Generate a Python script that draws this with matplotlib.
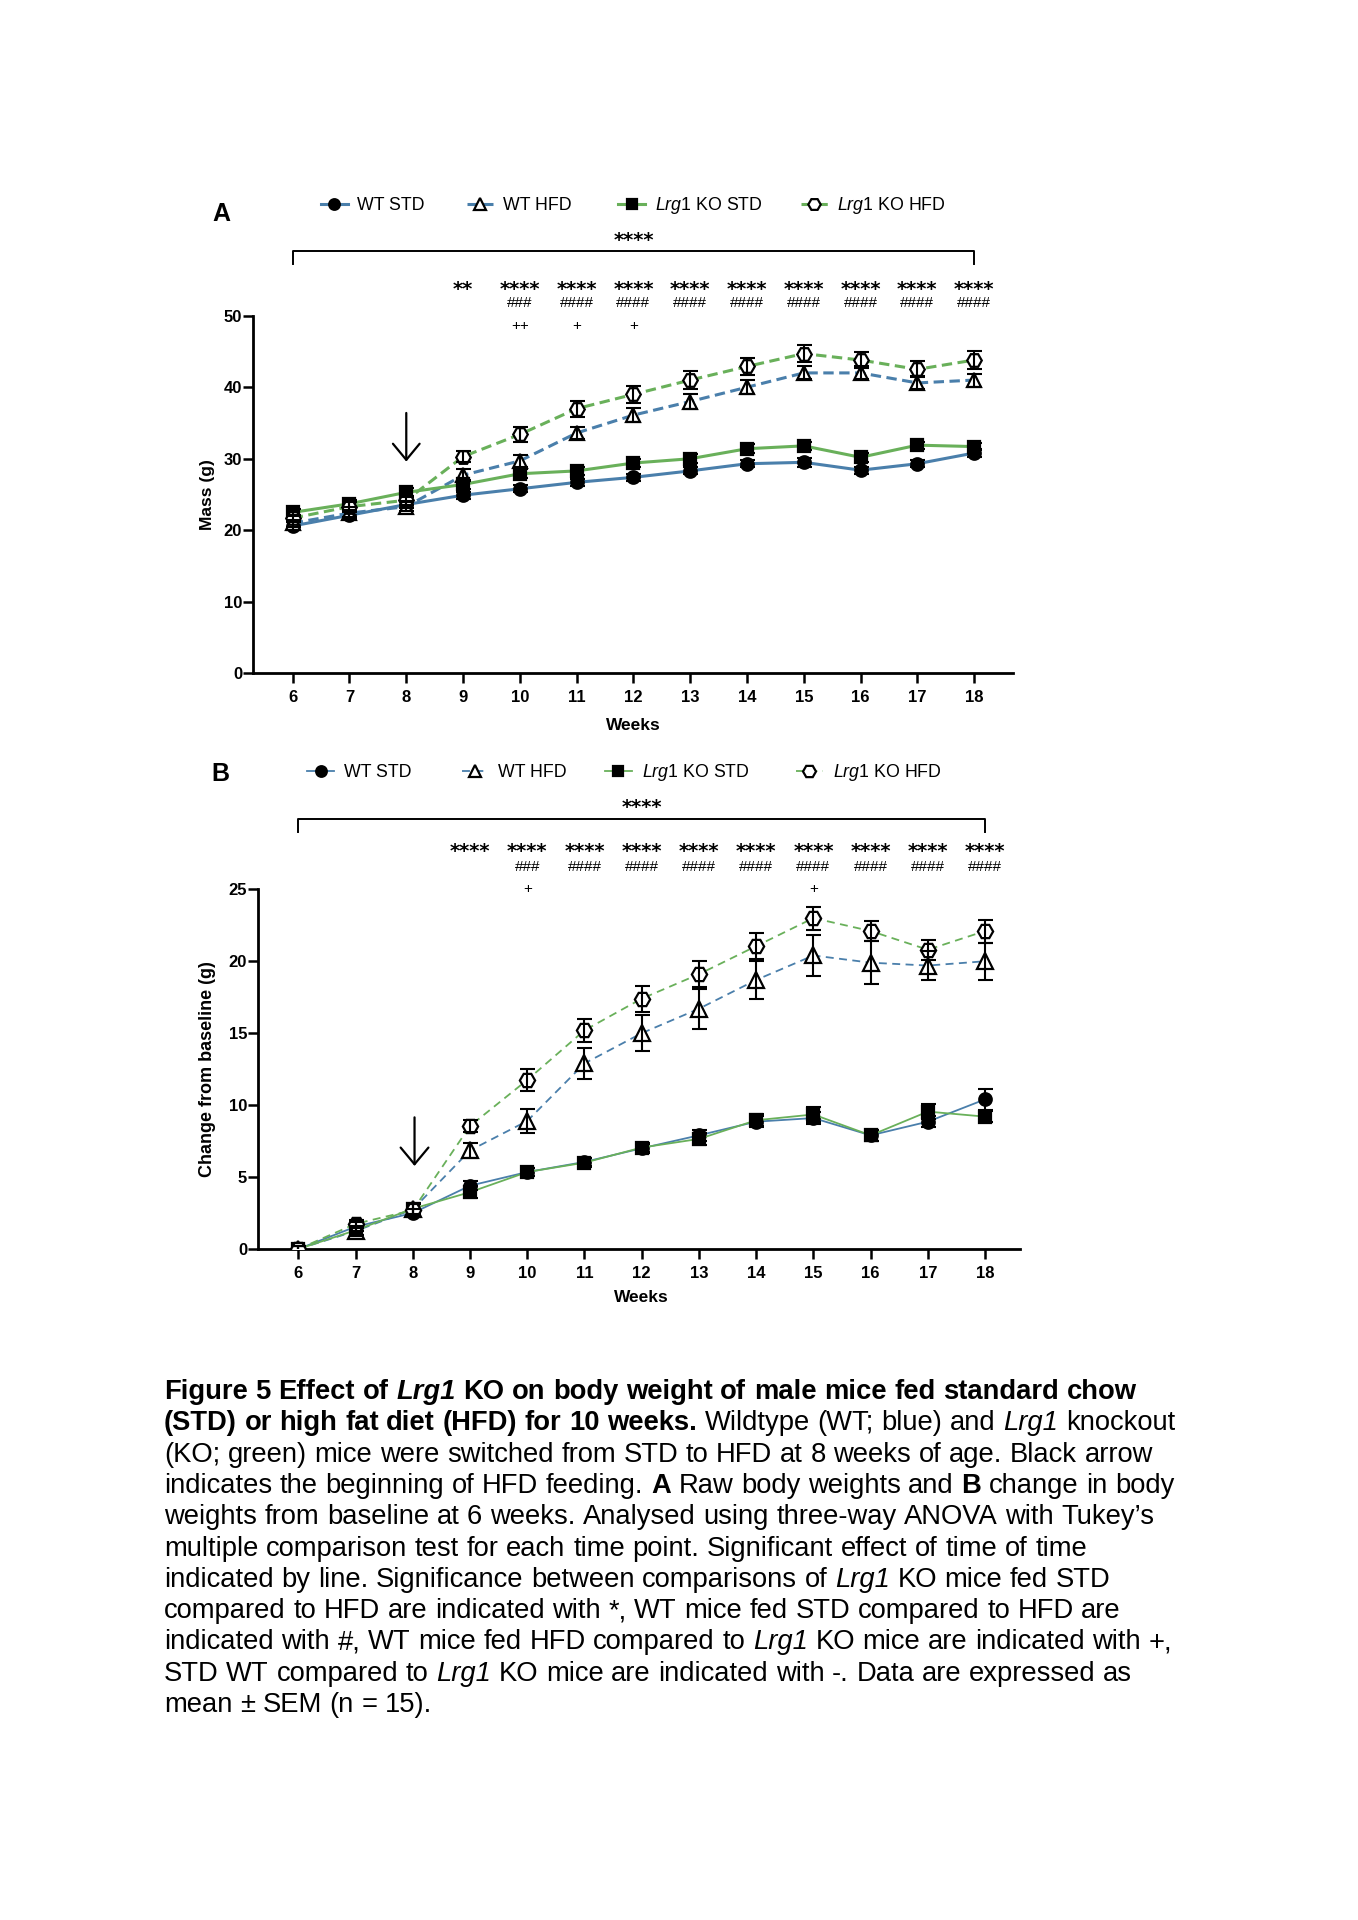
import re
import matplotlib
matplotlib.use("Agg")
import matplotlib.pyplot as plt
from matplotlib import transforms

plt.rcParams['font.family'] = ['Liberation Sans', 'DejaVu Sans']
plt.rcParams['mathtext.fontset'] = 'custom'
plt.rcParams['mathtext.rm'] = 'Liberation Sans'
plt.rcParams['mathtext.it'] = 'Liberation Sans:italic'
plt.rcParams['mathtext.bf'] = 'Liberation Sans:bold'

W, H = 1358, 1920
BLUE = "#4a7fab"
GREEN = "#69b05a"

weeks = [6, 7, 8, 9, 10, 11, 12, 13, 14, 15, 16, 17, 18]

# A: raw body weight (g), mean and SEM
wt_std_a = [20.6, 22.1, 23.6, 24.9, 25.8, 26.7, 27.4, 28.3, 29.3, 29.5, 28.4, 29.3, 30.8]
wt_std_a_sem = [0.5, 0.5, 0.5, 0.5, 0.5, 0.5, 0.5, 0.5, 0.5, 0.6, 0.5, 0.5, 0.6]
wt_hfd_a = [21.0, 22.4, 23.3, 27.7, 29.7, 33.6, 36.1, 38.0, 40.0, 42.0, 42.0, 40.6, 41.0]
wt_hfd_a_sem = [0.5, 0.5, 0.6, 0.8, 0.8, 0.9, 1.0, 1.0, 1.0, 0.9, 0.9, 0.9, 0.9]
ko_std_a = [22.5, 23.7, 25.3, 26.4, 27.9, 28.3, 29.4, 30.0, 31.4, 31.8, 30.2, 31.9, 31.7]
ko_std_a_sem = [0.5, 0.5, 0.6, 0.6, 0.6, 0.6, 0.6, 0.6, 0.6, 0.6, 0.6, 0.5, 0.5]
ko_hfd_a = [21.7, 23.3, 24.2, 30.3, 33.4, 37.0, 39.0, 41.0, 42.9, 44.7, 43.8, 42.5, 43.8]
ko_hfd_a_sem = [0.5, 0.6, 0.6, 0.8, 1.0, 1.1, 1.2, 1.2, 1.2, 1.2, 1.1, 1.1, 1.2]

# B: change from baseline at 6 weeks (g)
wt_std_b = [0.0, 1.55, 2.5, 4.4, 5.35, 6.05, 7.0, 7.9, 8.85, 9.1, 7.9, 8.85, 10.4]
wt_std_b_sem = [0.2, 0.3, 0.3, 0.3, 0.3, 0.3, 0.3, 0.4, 0.4, 0.4, 0.4, 0.4, 0.75]
wt_hfd_b = [0.0, 1.25, 2.75, 6.85, 8.9, 12.9, 15.0, 16.7, 18.7, 20.4, 19.9, 19.7, 20.0]
wt_hfd_b_sem = [0.2, 0.3, 0.4, 0.5, 0.85, 1.05, 1.25, 1.4, 1.35, 1.45, 1.5, 1.0, 1.3]
ko_std_b = [0.0, 1.3, 2.8, 3.95, 5.35, 6.0, 7.05, 7.65, 8.95, 9.35, 7.9, 9.55, 9.2]
ko_std_b_sem = [0.2, 0.3, 0.4, 0.4, 0.3, 0.3, 0.3, 0.4, 0.4, 0.5, 0.4, 0.5, 0.4]
ko_hfd_b = [0.0, 1.75, 2.7, 8.55, 11.75, 15.2, 17.4, 19.1, 21.05, 23.0, 22.1, 20.8, 22.1]
ko_hfd_b_sem = [0.2, 0.3, 0.4, 0.45, 0.75, 0.8, 0.9, 0.9, 0.9, 0.8, 0.7, 0.7, 0.8]

# significance marks per week
stars_a = ["", "", "", "**", "****", "****", "****", "****", "****", "****", "****", "****", "****"]
hash_a = ["", "", "", "", "###", "####", "####", "####", "####", "####", "####", "####", "####"]
plus_a = ["", "", "", "", "++", "+", "+", "", "", "", "", "", ""]
stars_b = ["", "", "", "****", "****", "****", "****", "****", "****", "****", "****", "****", "****"]
hash_b = ["", "", "", "", "###", "####", "####", "####", "####", "####", "####", "####", "####"]
plus_b = ["", "", "", "", "+", "", "", "", "", "+", "", "", ""]

labels = ["WT STD", "WT HFD", r"$\it{Lrg1}$ KO STD", r"$\it{Lrg1}$ KO HFD"]

STAR_FONT = dict(fontsize=14, fontweight="bold", family=["DejaVu Sans"])


def fy(py):
    return 1 - py / H


fig = plt.figure(figsize=(W / 100, H / 100), dpi=100)


def panel(rect, xlim, ylim, yticks, series, lw, dash, top):
    ax = fig.add_axes(rect)
    handles = []
    for (vals, sem, color, ls, marker, filled, size) in series:
        line, = ax.plot(weeks, vals, color=color, lw=lw,
                        ls=(0, dash) if ls == "--" else "-",
                        marker=marker, ms=size, mec="k", mew=1.6,
                        mfc="k" if filled else "white", zorder=3)
        ax.errorbar(weeks, vals, yerr=sem, fmt="none", ecolor="k",
                    elinewidth=1.5, capsize=5.4, capthick=1.5, zorder=4)
        handles.append(line)
    ax.set_xlim(*xlim)
    ax.set_ylim(*ylim)
    ax.set_xticks(weeks)
    ax.set_yticks(yticks)
    for s in ["top", "right"]:
        ax.spines[s].set_visible(False)
    for s in ["left", "bottom"]:
        ax.spines[s].set_linewidth(2.0)
    ax.tick_params(width=1.8, length=7, labelsize=12)
    ax.tick_params(axis="x", pad=5)
    ax.tick_params(axis="y", pad=1)
    for lab in ax.get_xticklabels() + ax.get_yticklabels():
        lab.set_fontweight("bold")

    # significance rows above the plot
    trans = transforms.blended_transform_factory(ax.transData, fig.transFigure)
    stars, hashes, pluses = top["marks"]
    for wk, s, h, p in zip(weeks, stars, hashes, pluses):
        if s:
            ax.text(wk, fy(top["stars_y"] + 10), s, transform=trans, ha="center",
                    va="baseline", clip_on=False, **STAR_FONT)
        if h:
            ax.text(wk, fy(top["hash_y"] + 5.3), h, transform=trans, ha="center",
                    va="baseline", fontsize=11, clip_on=False,
                    family=["Liberation Sans Narrow", "Liberation Sans"])
        if p:
            ax.text(wk, fy(top["plus_y"] + 5.3), p, transform=trans, ha="center",
                    va="baseline", fontsize=11, clip_on=False)
    # time effect bracket
    by, bt = top["bracket"]
    ax.plot([weeks[0], weeks[0], weeks[-1], weeks[-1]], [fy(bt), fy(by), fy(by), fy(bt)],
            transform=trans, color="k", lw=1.4, clip_on=False)
    ax.text((weeks[0] + weeks[-1]) / 2, fy(top["time_y"] + 10), "****", transform=trans,
            ha="center", va="baseline", clip_on=False, **STAR_FONT)
    return ax, handles


# ---- panel A ----
ax_a, h_a = panel(
    [253.3 / W, fy(673.3), 760 / W, 357.6 / H], (5.306, 18.69), (0, 50),
    [0, 10, 20, 30, 40, 50],
    [(wt_std_a, wt_std_a_sem, BLUE, "-", "o", True, 9),
     (wt_hfd_a, wt_hfd_a_sem, BLUE, "--", "^", False, 10),
     (ko_std_a, ko_std_a_sem, GREEN, "-", "s", True, 8.5),
     (ko_hfd_a, ko_hfd_a_sem, GREEN, "--", "H", False, 10.5)],
    2.2, (3.4, 1.8),
    {"marks": (stars_a, hash_a, plus_a), "stars_y": 284.5, "hash_y": 302,
     "plus_y": 325, "bracket": (251, 264), "time_y": 236})
ax_a.set_ylabel("Mass (g)", fontsize=12.5, fontweight="bold", va="center")
ax_a.yaxis.set_label_coords(-0.0605, 0.5)
ax_a.set_xlabel("Weeks", fontsize=12.5, fontweight="bold", va="center")
ax_a.xaxis.set_label_coords(0.4996, -0.147)
ax_a.annotate("", xy=(8, 29.6), xytext=(8, 36.4),
              arrowprops=dict(arrowstyle="->,head_length=0.58,head_width=0.48",
                              lw=1.6, color="k", mutation_scale=20,
                              shrinkA=0, shrinkB=0))

# ---- panel B ----
ax_b, h_b = panel(
    [258.3 / W, fy(1249), 761.7 / W, 359.7 / H], (5.30, 18.61), (0, 25),
    [0, 5, 10, 15, 20, 25],
    [(wt_std_b, wt_std_b_sem, BLUE, "-", "o", True, 9),
     (wt_hfd_b, wt_hfd_b_sem, BLUE, "--", "^", False, 11),
     (ko_std_b, ko_std_b_sem, GREEN, "-", "s", True, 9),
     (ko_hfd_b, ko_hfd_b_sem, GREEN, "--", "H", False, 11)],
    1.3, (4.4, 3.0),
    {"marks": (stars_b, hash_b, plus_b), "stars_y": 847.4, "hash_y": 866,
     "plus_y": 888, "bracket": (818.5, 831.5), "time_y": 803.5})
ax_b.set_ylabel("Change from baseline (g)", fontsize=13, fontweight="bold", va="center")
ax_b.yaxis.set_label_coords((208 - 258.3) / 761.7, 0.5)
ax_b.set_xlabel("Weeks", fontsize=12.5, fontweight="bold", va="center")
ax_b.xaxis.set_label_coords(0.503, -0.136)
ax_b.annotate("", xy=(8.03, 5.77), xytext=(8.03, 9.15),
              arrowprops=dict(arrowstyle="->,head_length=0.6,head_width=0.5",
                              lw=1.6, color="k", mutation_scale=20,
                              shrinkA=0, shrinkB=0))

# panel letters
fig.text(221.6 / W, fy(214.3), "A", fontsize=18, fontweight="bold", ha="center", va="center")
fig.text(220.4 / W, fy(774), "B", fontsize=18, fontweight="bold", ha="center", va="center")

# legends, one entry each so they sit where the original puts them
HL = 1.5
key_len = HL * 12.8 * 100 / 72
for handles, xs, y in [(h_a, [334.3, 480, 631.8, 814.3], 205.7),
                       (h_b, [320.8, 475, 618.4, 809.4], 772.7)]:
    for hnd, lab, x in zip(handles, labels, xs):
        fig.legend(handles=[hnd], labels=[lab], loc="center left",
                   bbox_to_anchor=((x - key_len / 2) / W, fy(y)),
                   bbox_transform=fig.transFigure, frameon=False,
                   handlelength=HL, handletextpad=0.55, borderpad=0,
                   borderaxespad=0, fontsize=12.8, markerscale=0.85)

# ---- caption ----
CAP_SIZE = 19.75
STYLE = {"n": ("normal", "normal"), "b": ("bold", "normal"),
         "i": ("normal", "italic"), "bi": ("bold", "italic")}
caption_lines = [
    [("Figure 5 Effect of ", "b"), ("Lrg1", "bi"), (" KO on body weight of male mice fed standard chow", "b")],
    [("(STD) or high fat diet (HFD) for 10 weeks.", "b"), (" Wildtype (WT; blue) and ", "n"), ("Lrg1", "i"), (" knockout", "n")],
    [("(KO; green) mice were switched from STD to HFD at 8 weeks of age. Black arrow", "n")],
    [("indicates the beginning of HFD feeding. ", "n"), ("A", "b"), (" Raw body weights and ", "n"), ("B", "b"), (" change in body", "n")],
    [("weights from baseline at 6 weeks. Analysed using three-way ANOVA with Tukey\u2019s", "n")],
    [("multiple comparison test for each time point. Significant effect of time of time", "n")],
    [("indicated by line. Significance between comparisons of ", "n"), ("Lrg1", "i"), (" KO mice fed STD", "n")],
    [("compared to HFD are indicated with *, WT mice fed STD compared to HFD are", "n")],
    [("indicated with #, WT mice fed HFD compared to ", "n"), ("Lrg1", "i"), (" KO mice are indicated with +,", "n")],
    [("STD WT compared to ", "n"), ("Lrg1", "i"), (" KO mice are indicated with -. Data are expressed as", "n")],
    [("mean \u00b1 SEM (n = 15).", "n")],
]

renderer = fig.canvas.get_renderer()


def text_width(s, key):
    weight, style = STYLE[key]
    t = fig.text(0, 0, "|" + s + "|", fontsize=CAP_SIZE, fontweight=weight, fontstyle=style)
    w = t.get_window_extent(renderer).width
    t.remove()
    return w


bars = {k: text_width("", k) for k in STYLE}
spaces = {k: text_width(" ", k) - bars[k] for k in STYLE}

base0, step = 1399, 31.3
for i, runs in enumerate(caption_lines):
    x = 164
    y = fy(base0 + i * step)
    for s, key in runs:
        weight, style = STYLE[key]
        for tok in re.findall(r"\s+|\S+", s):
            if tok.isspace():
                x += spaces[key] * len(tok)
                continue
            fig.text(x / W, y, tok, fontsize=CAP_SIZE, fontweight=weight,
                     fontstyle=style, va="baseline", ha="left")
            x += text_width(tok, key) - bars[key]

fig.savefig("out.png", dpi=100)
